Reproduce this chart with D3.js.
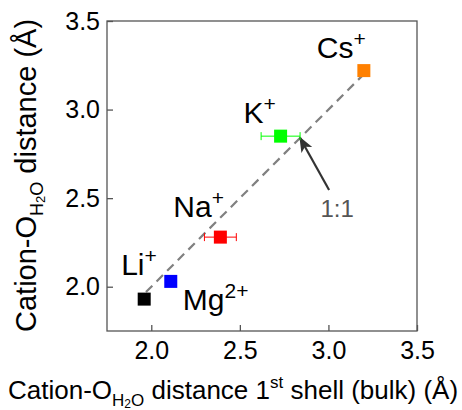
<!DOCTYPE html>
<html>
<head>
<meta charset="utf-8">
<script src="https://cdn.jsdelivr.net/npm/d3@7"></script>
<style>
  html, body { margin: 0; padding: 0; background: #fff; }
  svg { display: block; font-family: Arial, "Liberation Sans", sans-serif; }
</style>
</head>
<body>
<svg id="chart" width="462" height="410"></svg>
<script>
// ─── DATA ───
const ions = ['Li', 'Mg', 'Na', 'K', 'Cs'];
const charges = ['+', '2+', '+', '+', '+'];
const bulkDist = [1.96, 2.11, 2.39, 2.73, 3.20];      // x: 1st shell (bulk)
const cationDist = [1.93, 2.03, 2.28, 2.85, 3.22];    // y
const bulkErr = [0, 0, 0.09, 0.11, 0];
const ionColors = ['#000000', '#0000ff', '#ff0000', '#00ff00', '#ff8000'];
const xTicks = [2.0, 2.5, 3.0, 3.5];
const yTicks = [2.0, 2.5, 3.0, 3.5];
const refLine = [1.97, 3.2];   // 1:1 guide, both axes

// label offsets from marker centre (px)
const labelOffset = [[-23, -24], [12, 29], [-47, -20], [-37, -13], [-47, -13]];

const W = 462, H = 410;
const m = { top: 21, right: 45, bottom: 79, left: 107 };
const w = W - m.left - m.right;
const h = H - m.top - m.bottom;

const svg = d3.select('#chart');
const g = svg.append('g').attr('transform', `translate(${m.left},${m.top})`);

const x = d3.scaleLinear().domain([1.75, 3.5]).range([0, w]);
const y = d3.scaleLinear().domain([1.75, 3.5]).range([h, 0]);

const axisColor = '#555';

// frame
g.append('rect').attr('width', w).attr('height', h)
  .attr('fill', 'none').attr('stroke', axisColor).attr('stroke-width', 1.3);

// axes (inward ticks)
const xAxis = g.append('g').attr('transform', `translate(0,${h})`)
  .call(d3.axisBottom(x).tickValues(xTicks).tickFormat(d3.format('.1f')).tickSizeInner(-6).tickSizeOuter(0).tickPadding(10));
const yAxis = g.append('g')
  .call(d3.axisLeft(y).tickValues(yTicks).tickFormat(d3.format('.1f')).tickSizeInner(-6).tickSizeOuter(0).tickPadding(7));

[xAxis, yAxis].forEach(a => {
  a.select('.domain').remove();
  a.selectAll('line').attr('stroke', axisColor).attr('stroke-width', 1.3);
  a.selectAll('text').attr('font-size', '25px').attr('fill', '#000')
    .attr('font-family', 'Arial, "Liberation Sans", sans-serif');
});

// 1:1 dashed line
g.append('line')
  .attr('x1', x(refLine[0])).attr('y1', y(refLine[0]))
  .attr('x2', x(refLine[1])).attr('y2', y(refLine[1]))
  .attr('stroke', '#808080').attr('stroke-width', 2.2)
  .attr('stroke-dasharray', '9,6');

// arrow pointing to the line
svg.append('defs').append('marker')
  .attr('id', 'arrowhead').attr('viewBox', '0 0 10 10')
  .attr('refX', 9).attr('refY', 5)
  .attr('markerWidth', 7).attr('markerHeight', 7)
  .attr('markerUnits', 'strokeWidth').attr('orient', 'auto')
  .append('path').attr('d', 'M0,1 L10,5 L0,9 L2.5,5 Z').attr('fill', '#333');

const arrowTip = 2.84;
g.append('line')
  .attr('x1', x(arrowTip) + 29).attr('y1', y(arrowTip) + 52)
  .attr('x2', x(arrowTip)).attr('y2', y(arrowTip))
  .attr('stroke', '#333').attr('stroke-width', 2.2)
  .attr('marker-end', 'url(#arrowhead)');

g.append('text')
  .attr('x', x(arrowTip) + 37).attr('y', y(arrowTip) + 79)
  .attr('text-anchor', 'middle')
  .attr('font-size', '24px').attr('fill', '#555')
  .text('1:1');

// error bars + markers
const pts = ions.map((ion, i) => ({
  ion, charge: charges[i], x: bulkDist[i], y: cationDist[i],
  err: bulkErr[i], color: ionColors[i], off: labelOffset[i]
}));

const ptG = g.selectAll('.pt').data(pts).enter().append('g').attr('class', 'pt');

ptG.filter(d => d.err > 0).each(function (d) {
  const s = d3.select(this);
  s.append('line')
    .attr('x1', x(d.x - d.err)).attr('x2', x(d.x + d.err))
    .attr('y1', y(d.y)).attr('y2', y(d.y))
    .attr('stroke', d.color).attr('stroke-width', 1);
  [d.x - d.err, d.x + d.err].forEach(v => {
    s.append('line')
      .attr('x1', x(v)).attr('x2', x(v))
      .attr('y1', y(d.y) - 4).attr('y2', y(d.y) + 4)
      .attr('stroke', d.color).attr('stroke-width', 1);
  });
});

const sq = 13;
ptG.append('rect')
  .attr('x', d => x(d.x) - sq / 2).attr('y', d => y(d.y) - sq / 2)
  .attr('width', sq).attr('height', sq)
  .attr('fill', d => d.color);

// ion labels
const lab = ptG.append('text')
  .attr('x', d => x(d.x) + d.off[0]).attr('y', d => y(d.y) + d.off[1])
  .attr('font-size', '30px').attr('fill', '#000');
lab.append('tspan').text(d => d.ion);
lab.append('tspan').attr('font-size', '21px').attr('dy', -12).text(d => d.charge);

// axis titles
const xt = svg.append('text')
  .attr('x', 8).attr('y', 399)
  .attr('font-size', '26px').attr('fill', '#000');
xt.append('tspan').text('Cation-O');
xt.append('tspan').attr('font-size', '17px').attr('dy', 7).text('H');
xt.append('tspan').attr('font-size', '12px').attr('dy', 2).text('2');
xt.append('tspan').attr('font-size', '17px').attr('dy', -2).text('O');
xt.append('tspan').attr('dy', -7).text(' distance 1');
xt.append('tspan').attr('font-size', '17px').attr('dy', -11).text('st');
xt.append('tspan').attr('dy', 11).text(' shell (bulk) (\u00c5)');

const yt = svg.append('text')
  .attr('transform', 'translate(36,332) rotate(-90)')
  .attr('font-size', '29px').attr('fill', '#000');
yt.append('tspan').text('Cation-O');
yt.append('tspan').attr('font-size', '18px').attr('dy', 7).text('H');
yt.append('tspan').attr('font-size', '13px').attr('dy', 2).text('2');
yt.append('tspan').attr('font-size', '18px').attr('dy', -2).text('O');
yt.append('tspan').attr('dy', -7).text(' distance (\u00c5)');
</script>
</body>
</html>
